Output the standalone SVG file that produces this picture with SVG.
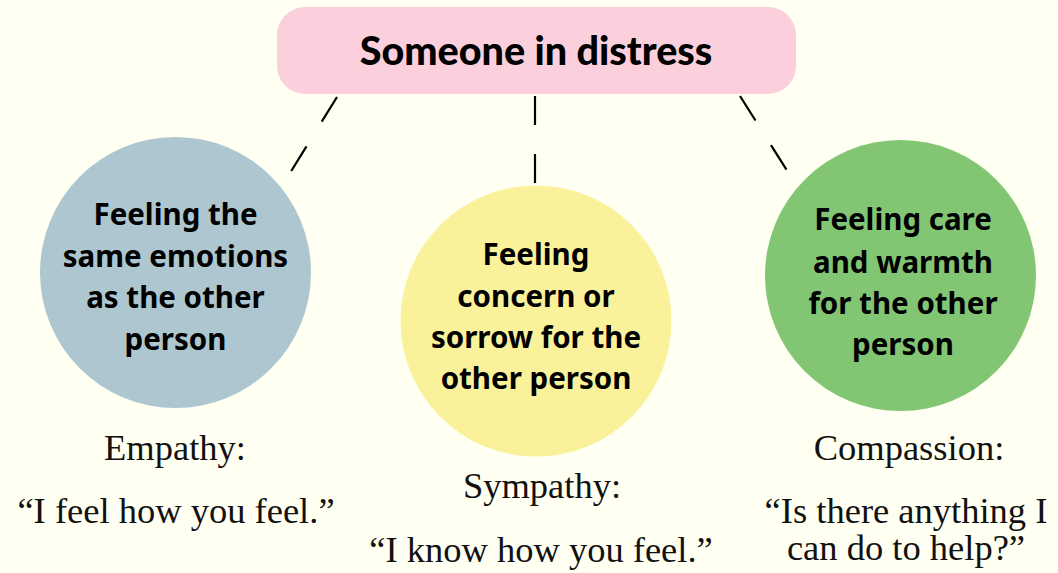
<svg xmlns="http://www.w3.org/2000/svg" width="1058" height="573" viewBox="0 0 1058 573">
<style>
.h{fill:#000;text-anchor:middle}
.n{font-family:"Noto Sans","Liberation Sans",sans-serif;font-weight:700;font-size:29.5px}
.t{font-family:Lato,"Liberation Sans",sans-serif;font-weight:900;font-size:39.5px}
.s{font-family:"Liberation Serif","DejaVu Serif",serif;font-size:36.5px;fill:#111;text-anchor:middle}
.c{stroke:#000;stroke-width:2.2;stroke-dasharray:29 29;fill:none}
</style>
<rect width="1058" height="573" fill="#fffff2"/>
<g id="connectors">
<line class="c" x1="337" y1="97" x2="290" y2="173"/>
<line class="c" x1="535" y1="96" x2="535" y2="184"/>
<line class="c" x1="740" y1="96" x2="788" y2="172"/>
</g>
<g id="top">
<rect x="277" y="7" width="519" height="87" rx="28" fill="#fbd0dc"/>
<text class="h t" x="536" y="65">Someone in distress</text>
</g>
<g id="empathy">
<circle cx="175.5" cy="272.5" r="135.5" fill="#adc6d0"/>
<text class="h n" x="175.5" y="225">Feeling the</text>
<text class="h n" x="175.5" y="266.5">same emotions</text>
<text class="h n" x="175.5" y="308">as the other</text>
<text class="h n" x="175.5" y="349.5">person</text>
<text class="s" x="175" y="460">Empathy:</text>
<text class="s" x="176" y="523">“I feel how you feel.”</text>
</g>
<g id="sympathy">
<circle cx="536" cy="321" r="135.5" fill="#f9f29a"/>
<text class="h n" x="536" y="265">Feeling</text>
<text class="h n" x="536" y="306.5">concern or</text>
<text class="h n" x="536" y="348">sorrow for the</text>
<text class="h n" x="536" y="388.5">other person</text>
<text class="s" x="542" y="498">Sympathy:</text>
<text class="s" x="541" y="562">“I know how you feel.”</text>
</g>
<g id="compassion">
<circle cx="900.5" cy="275.5" r="135.5" fill="#82c674"/>
<text class="h n" x="903" y="230">Feeling care</text>
<text class="h n" x="903" y="272.5">and warmth</text>
<text class="h n" x="903" y="313.5">for the other</text>
<text class="h n" x="903" y="355">person</text>
<text class="s" x="909" y="460">Compassion:</text>
<text class="s" x="906" y="523">“Is there anything I</text>
<text class="s" x="906" y="560">can do to help?”</text>
</g>
</svg>
